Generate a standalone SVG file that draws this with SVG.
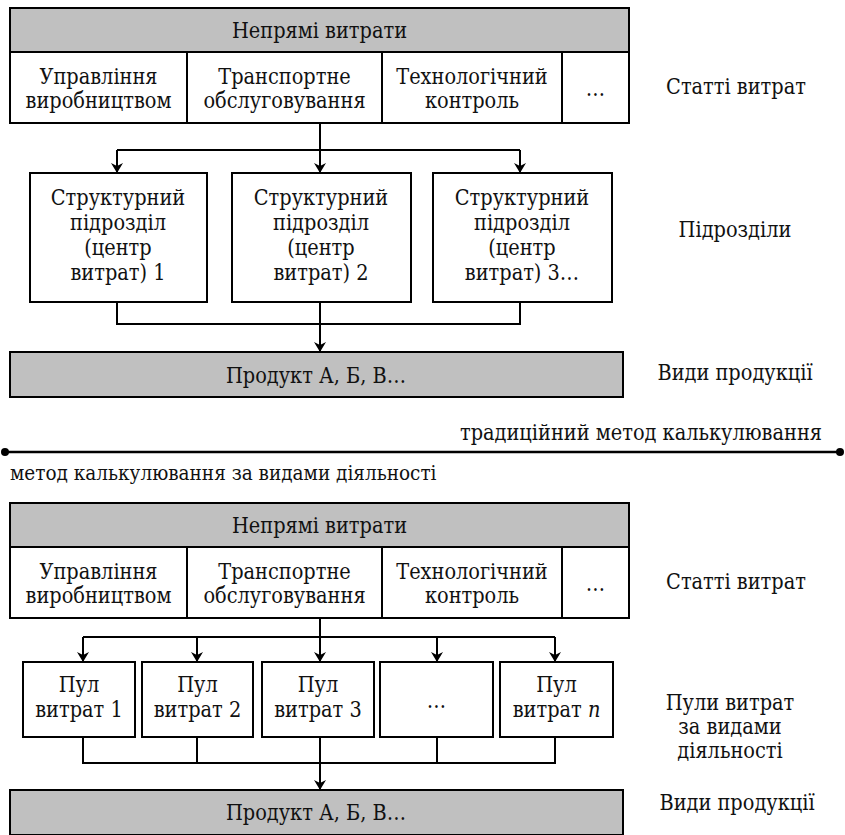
<svg xmlns="http://www.w3.org/2000/svg" width="845" height="835" viewBox="0 0 845 835">
<defs>
<marker id="ah" viewBox="0 0 10 12" refX="10" refY="6" markerWidth="10" markerHeight="12" markerUnits="userSpaceOnUse" orient="auto">
<path d="M0,0 L10,6 L0,12 L3,6 Z" fill="#000"/>
</marker>
</defs>
<style>
text{text-anchor:middle;dominant-baseline:central;fill:#111}
.g{fill:#c0c0c0;stroke:#000;stroke-width:2}
.w{fill:#fff;stroke:#000;stroke-width:2}
.l{fill:none;stroke:#000;stroke-width:2}
.a{fill:none;stroke:#000;stroke-width:2;marker-end:url(#ah)}
</style>
<rect width="845" height="835" fill="#fff"/>
<g font-family="DejaVu Serif Condensed, DejaVu Serif, serif" font-stretch="condensed" font-size="21.5">

<!-- TOP SECTION -->
<g id="top-costs">
<rect class="g" x="10" y="8" width="619" height="44"/>
<text x="319.5" y="30">Непрямі витрати</text>
<rect class="w" x="10" y="52" width="619" height="71"/>
<line class="l" x1="187" y1="52" x2="187" y2="123"/>
<line class="l" x1="382" y1="52" x2="382" y2="123"/>
<line class="l" x1="562" y1="52" x2="562" y2="123"/>
<text x="98.5" y="76">Управління</text>
<text x="98.5" y="100">виробництвом</text>
<text x="284.5" y="76">Транспортне</text>
<text x="284.5" y="100">обслуговування</text>
<text x="472" y="76">Технологічний</text>
<text x="472" y="100">контроль</text>
<text x="595.5" y="88">…</text>
</g>
<g id="top-unit1">
<rect class="w" x="30" y="173" width="177" height="129"/>
<text x="118" y="197">Структурний</text>
<text x="118" y="222">підрозділ</text>
<text x="118" y="247">(центр</text>
<text x="118" y="272">витрат) 1</text>
</g>
<g id="top-unit2">
<rect class="w" x="232" y="173" width="179" height="129"/>
<text x="321" y="197">Структурний</text>
<text x="321" y="222">підрозділ</text>
<text x="321" y="247">(центр</text>
<text x="321" y="272">витрат) 2</text>
</g>
<g id="top-unit3">
<rect class="w" x="433" y="173" width="179" height="129"/>
<text x="522" y="197">Структурний</text>
<text x="522" y="222">підрозділ</text>
<text x="522" y="247">(центр</text>
<text x="522" y="272">витрат) 3…</text>
</g>
<g id="top-product">
<rect class="g" x="10" y="352" width="613" height="45"/>
<text x="316" y="375">Продукт А, Б, В…</text>
</g>
<g id="top-labels">
<text x="736" y="86">Статті витрат</text>
<text x="735" y="229">Підрозділи</text>
<text x="735" y="372">Види продукції</text>
</g>

<!-- DIVIDER -->
<g id="divider">
<text x="822" y="432" text-anchor="end" style="text-anchor:end">традиційний метод калькулювання</text>
<line x1="5" y1="452" x2="840" y2="452" stroke="#000" stroke-width="2.5"/>
<circle cx="5" cy="452" r="4" fill="#000"/>
<circle cx="840" cy="452" r="4" fill="#000"/>
<text x="10" y="473" text-anchor="start" style="text-anchor:start" font-size="20.5">метод калькулювання за видами діяльності</text>
</g>

<!-- BOTTOM SECTION -->
<g id="bottom-costs">
<rect class="g" x="10" y="503" width="619" height="44"/>
<text x="319.5" y="525">Непрямі витрати</text>
<rect class="w" x="10" y="547" width="619" height="71"/>
<line class="l" x1="187" y1="547" x2="187" y2="618"/>
<line class="l" x1="382" y1="547" x2="382" y2="618"/>
<line class="l" x1="562" y1="547" x2="562" y2="618"/>
<text x="98.5" y="571">Управління</text>
<text x="98.5" y="595">виробництвом</text>
<text x="284.5" y="571">Транспортне</text>
<text x="284.5" y="595">обслуговування</text>
<text x="472" y="571">Технологічний</text>
<text x="472" y="595">контроль</text>
<text x="595.5" y="583">…</text>
</g>
<g id="pool1">
<rect class="w" x="23" y="662" width="112" height="75"/>
<text x="79" y="684">Пул</text>
<text x="79" y="709">витрат 1</text>
</g>
<g id="pool2">
<rect class="w" x="142" y="662" width="111" height="75"/>
<text x="197.5" y="684">Пул</text>
<text x="197.5" y="709">витрат 2</text>
</g>
<g id="pool3">
<rect class="w" x="262" y="662" width="112" height="75"/>
<text x="318" y="684">Пул</text>
<text x="318" y="709">витрат 3</text>
</g>
<g id="pool4">
<rect class="w" x="380" y="662" width="113" height="75"/>
<text x="436.5" y="700">…</text>
</g>
<g id="pool5">
<rect class="w" x="500" y="662" width="113" height="75"/>
<text x="556.5" y="684">Пул</text>
<text x="556.5" y="709">витрат <tspan font-style="italic">n</tspan></text>
</g>
<g id="bottom-product">
<rect class="g" x="10" y="790" width="613" height="45"/>
<text x="316" y="812">Продукт А, Б, В…</text>
</g>
<g id="bottom-labels">
<text x="736" y="581">Статті витрат</text>
<text x="730" y="702">Пули витрат</text>
<text x="730" y="726">за видами</text>
<text x="730" y="750">діяльності</text>
<text x="737" y="802">Види продукції</text>
</g>
</g>

<!-- CONNECTORS -->
<g id="connectors">
<line class="l" x1="320" y1="123" x2="320" y2="150"/>
<line class="l" x1="117" y1="150" x2="520" y2="150"/>
<line class="a" x1="117" y1="150" x2="117" y2="173"/>
<line class="a" x1="320" y1="150" x2="320" y2="173"/>
<line class="a" x1="520" y1="150" x2="520" y2="173"/>
<polyline class="l" points="117,302 117,324 520,324 520,302"/>
<line class="l" x1="320" y1="302" x2="320" y2="324"/>
<line class="a" x1="320" y1="324" x2="320" y2="352"/>

<line class="l" x1="320" y1="618" x2="320" y2="637"/>
<line class="l" x1="83" y1="637" x2="555" y2="637"/>
<line class="a" x1="83" y1="637" x2="83" y2="662"/>
<line class="a" x1="197" y1="637" x2="197" y2="662"/>
<line class="a" x1="320" y1="637" x2="320" y2="662"/>
<line class="a" x1="437" y1="637" x2="437" y2="662"/>
<line class="a" x1="555" y1="637" x2="555" y2="662"/>
<polyline class="l" points="83,737 83,763 555,763 555,737"/>
<line class="l" x1="197" y1="737" x2="197" y2="763"/>
<line class="l" x1="320" y1="737" x2="320" y2="763"/>
<line class="l" x1="437" y1="737" x2="437" y2="763"/>
<line class="a" x1="320" y1="763" x2="320" y2="790"/>
</g>
</svg>
